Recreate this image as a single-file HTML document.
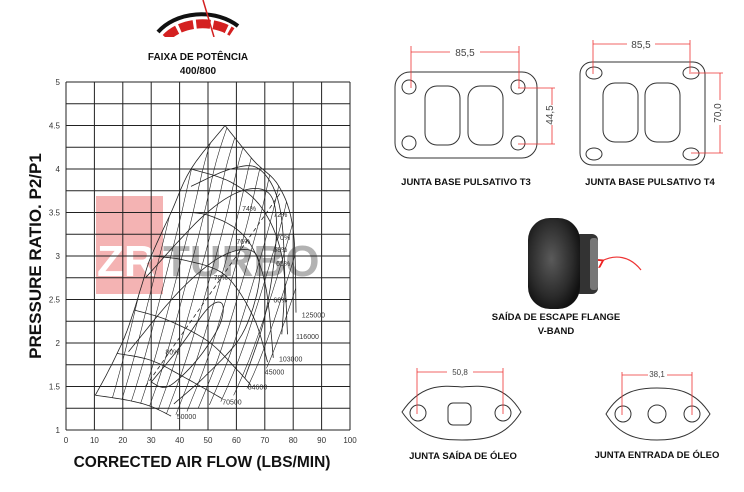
<!DOCTYPE html>
<html><head><meta charset="utf-8"><style>
html,body{margin:0;padding:0;background:#fff;}
svg{display:block;}
text{font-family:"Liberation Sans",sans-serif;}
.b{font-weight:bold;fill:#111;}
</style></head><body>
<svg id="s" width="744" height="492" viewBox="0 0 744 492" xmlns="http://www.w3.org/2000/svg">
<defs>
<clipPath id="logoclip"><rect x="150" y="0" width="100" height="37"/></clipPath>
<clipPath id="mapclip"><polygon id="mappoly" points="0,0"/></clipPath>
<radialGradient id="tg" cx="0.45" cy="0.45" r="0.6"><stop offset="0" stop-color="#5a5a5a"/><stop offset="0.7" stop-color="#2a2a2a"/><stop offset="1" stop-color="#111"/></radialGradient>
<marker id="ah" markerWidth="8" markerHeight="8" refX="2" refY="4" orient="auto"><path d="M7,0 L1,4 L7,8" fill="none" stroke="#e22" stroke-width="1.5"/></marker>
</defs>
<!-- logo -->
<g clip-path="url(#logoclip)">
<path d="M158,32 A52,40 0 0 1 238,26" fill="none" stroke="#111" stroke-width="4"/>
<path d="M166,38 A44,32 0 0 1 232,32" fill="none" stroke="#d42020" stroke-width="9" stroke-dasharray="14,3"/>
<line x1="203" y1="0" x2="214" y2="37" stroke="#d42020" stroke-width="1.5"/>
</g>
<text x="198" y="60" text-anchor="middle" class="b" font-size="10">FAIXA DE POTÊNCIA</text>
<text x="198" y="74" text-anchor="middle" class="b" font-size="10">400/800</text>
<!-- watermark -->
<rect x="96" y="196" width="67" height="98" fill="#f4b3b3"/>
<text x="97" y="276" font-size="44" font-weight="bold" fill="#fff">ZR</text>
<text x="163" y="276" font-size="44" font-weight="bold" fill="#999" opacity="0.75">TURBO</text>
<g id="grid" stroke="#222" stroke-width="1"></g>
<g id="map" fill="none" stroke="#222" stroke-width="0.8"></g>
<g id="lbl" font-size="7" fill="#333"></g>
<text transform="translate(41,256) rotate(-90)" text-anchor="middle" class="b" font-size="17">PRESSURE RATIO. P2/P1</text>
<text x="202" y="467" text-anchor="middle" class="b" font-size="15.5">CORRECTED AIR FLOW (LBS/MIN)</text>

<g fill="none" stroke="#333" stroke-width="1">
<rect x="395" y="72" width="142" height="86" rx="15"/>
<circle cx="409" cy="87" r="7"/><circle cx="518" cy="87" r="7"/><circle cx="409" cy="143" r="7"/><circle cx="518" cy="143" r="7"/>
<rect x="425" y="86" width="35" height="59" rx="12"/><rect x="468" y="86" width="35" height="59" rx="12"/>
<rect x="580" y="62" width="125" height="103" rx="12"/>
<ellipse cx="594" cy="73" rx="8" ry="6"/><ellipse cx="691" cy="73" rx="8" ry="6"/><ellipse cx="594" cy="154" rx="8" ry="6"/><ellipse cx="691" cy="154" rx="8" ry="6"/>
<rect x="603" y="83" width="35" height="59" rx="12"/><rect x="645" y="83" width="35" height="59" rx="12"/>
<path d="M402,412 C420,385 440,385 462,387 C484,385 505,385 521,412 C505,438 484,440 462,440 C440,440 420,438 402,412Z"/>
<circle cx="418" cy="413" r="8"/><circle cx="503" cy="413" r="8"/><rect x="448" y="403" width="23" height="22" rx="5"/>
<path d="M606,414 C620,390 640,388 657,388 C675,388 695,390 710,414 C695,437 675,440 657,440 C640,440 620,437 606,414Z"/>
<circle cx="623" cy="414" r="8"/><circle cx="657" cy="414" r="9"/><circle cx="692" cy="414" r="8"/>
</g>
<g stroke="#e33" stroke-width="0.8" fill="none">
<path d="M411,46V88M519,46V88M411,52H450M480,52H519"/>
<path d="M518,88H555M518,144H555M552,88V105M552,125V144"/>
<path d="M593,40V74M690,40V74M593,44H627M655,44H690"/>
<path d="M691,73H723M691,153H723M720,73V100M720,125V153"/>
<path d="M417,368V414M503,368V414M417,372H447M473,372H503"/>
<path d="M622,372V415M692,372V415M622,375H648M667,375H692"/>
<path d="M641,270 C630,256 615,254 602,261" marker-end="url(#ah)" stroke-width="1.2"/>
</g>
<g font-size="10" fill="#444" text-anchor="middle">
<text x="465" y="56">85,5</text><text x="641" y="48">85,5</text>
<text transform="translate(553,115) rotate(-90)">44,5</text>
<text transform="translate(721,113) rotate(-90)">70,0</text>
<text x="460" y="375" font-size="8">50,8</text><text x="657" y="377" font-size="8">38,1</text>
</g>
<g class="b" font-size="9.5" text-anchor="middle">
<text x="466" y="185">JUNTA BASE PULSATIVO T3</text>
<text x="650" y="185">JUNTA BASE PULSATIVO T4</text>
<text x="556" y="320">SAÍDA DE ESCAPE FLANGE</text>
<text x="556" y="334">V-BAND</text>
<text x="463" y="459">JUNTA SAÍDA DE ÓLEO</text>
<text x="657" y="458">JUNTA ENTRADA DE ÓLEO</text>
</g>
<rect x="574" y="234" width="24" height="60" rx="6" fill="#333"/>
<rect x="590" y="238" width="8" height="52" rx="3" fill="#777"/>
<rect x="528" y="218" width="52" height="91" rx="22" fill="url(#tg)"/>
</svg>
<script>
var NS="http://www.w3.org/2000/svg";
function X(v){return 66+v*2.84}function Y(p){return 430-(p-1)*87}
var g=document.getElementById('grid');
function ln(p,x1,y1,x2,y2){var l=document.createElementNS(NS,'line');l.setAttribute('x1',x1);l.setAttribute('y1',y1);l.setAttribute('x2',x2);l.setAttribute('y2',y2);p.appendChild(l);}
for(var i=0;i<=10;i++)ln(g,X(i*10),Y(5),X(i*10),Y(1));
for(var j=0;j<=16;j++)ln(g,X(0),Y(1+j*0.25),X(100),Y(1+j*0.25));
var L=document.getElementById('lbl');
function tx(x,y,s,a,fs){var t=document.createElementNS(NS,'text');t.setAttribute('x',x);t.setAttribute('y',y);if(a)t.setAttribute('text-anchor',a);if(fs)t.setAttribute('font-size',fs);t.textContent=s;L.appendChild(t);}
for(var i=0;i<=10;i++)tx(X(i*10),443,String(i*10),'middle',8);
['1','1.5','2','2.5','3','3.5','4','4.5','5'].forEach(function(s,k){tx(60,Y(1+k*0.5)+3,s,'end',8);});
var M=document.getElementById('map');
var C=document.createElementNS(NS,'g');C.setAttribute('clip-path','url(#mapclip)');M.appendChild(C);
function pth(pts,closed,extra,par){var d='M'+pts.map(function(q){return X(q[0]).toFixed(1)+','+Y(q[1]).toFixed(1)}).join(' L');if(closed)d+='Z';var p=document.createElementNS(NS,'path');p.setAttribute('d',d);if(extra)for(var k in extra)p.setAttribute(k,extra[k]);(par||M).appendChild(p);}
function smooth(pts,n){var out=[];for(var i=0;i<pts.length-1;i++){var p0=pts[Math.max(i-1,0)],p1=pts[i],p2=pts[i+1],p3=pts[Math.min(i+2,pts.length-1)];for(var t=0;t<n;t++){var s=t/n,s2=s*s,s3=s2*s;out.push([0.5*(2*p1[0]+(-p0[0]+p2[0])*s+(2*p0[0]-5*p1[0]+4*p2[0]-p3[0])*s2+(-p0[0]+3*p1[0]-3*p2[0]+p3[0])*s3),0.5*(2*p1[1]+(-p0[1]+p2[1])*s+(2*p0[1]-5*p1[1]+4*p2[1]-p3[1])*s2+(-p0[1]+3*p1[1]-3*p2[1]+p3[1])*s3)]);}}out.push(pts[pts.length-1]);return out;}
var surge=[[10.3,1.4],[14,1.62],[18,1.88],[21,2.1],[24,2.38],[27,2.7],[30,3.0],[37,3.5],[44,4.0],[56,4.5]];
var bound=smooth(surge,6).concat(smooth([[56,4.5],[66,4.1],[75,3.8],[80,3.3],[81,2.35]],6)).concat([[78,2.05],[73,1.8],[65,1.5],[55,1.33],[37,1.16],[30,1.27],[22,1.34]]);
document.getElementById('mappoly').setAttribute('points',bound.map(function(q){return X(q[0]).toFixed(1)+','+Y(q[1]).toFixed(1)}).join(' '));
pth(smooth(surge,6));
var speeds=[
[[10.3,1.4],[22,1.34],[30,1.27],[37,1.16]],
[[18,1.88],[30,1.8],[42,1.6],[55,1.36]],
[[24,2.38],[36,2.26],[50,2.02],[60,1.7],[65,1.52]],
[[30,3.0],[42,2.95],[56,2.78],[66,2.3],[71,1.78]],
[[37,3.5],[50,3.47],[63,3.22],[70,2.7],[73,1.83]],
[[44,4.0],[58,3.85],[69,3.55],[76,3.0],[78,2.1]],
[[56,4.5],[66,4.1],[75,3.8],[80,3.3],[81,2.35]]];
speeds.forEach(function(s){pth(smooth(s,8));});
for(var k=0;k<18;k++){var a=14+k*3.4;pth(smooth([[a,1.1],[a+6+k*0.3,1.8],[a+12+k*0.5,2.6],[a+18+k*0.6,3.4],[a+23+k*0.6,4.1],[a+28+k*0.6,4.6]],5),false,{'stroke-width':'0.6'},C);}
pth(smooth([[30,1.55],[40,1.95],[50,2.4],[55,2.45],[54,2.2],[46,1.8],[36,1.5],[30,1.55]],8),false,null,C);
pth(smooth([[22,1.9],[40,2.6],[55,3.0],[66,3.05],[68,2.7],[62,2.1],[50,1.65],[38,1.3]],8),false,null,C);
pth(smooth([[28,2.75],[48,3.45],[62,3.75],[72,3.7],[74,3.2],[70,2.3],[63,1.6]],8),false,null,C);
pth(smooth([[44,3.8],[58,4.0],[68,4.0],[75,3.6],[77,2.8],[76,2.1]],8),false,null,C);
pth([[28,1.5],[76,3.75]],false,{'stroke-dasharray':'4,3'},C);
[['74%',62,3.55],['72%',73,3.48],['70%',74,3.22],['76%',60,3.17],['68%',73,3.08],['65%',74,2.92],['78%',52,2.76],['60%',73,2.5],['80%',35,1.9],['125000',83,2.33],['116000',81,2.08],['103000',75,1.82],['45000',70,1.67],['84600',64,1.5],['70500',55,1.33],['50000',39,1.16]].forEach(function(q){tx(X(q[1]),Y(q[2])+3,q[0],null,7);});
</script>
</body></html>
